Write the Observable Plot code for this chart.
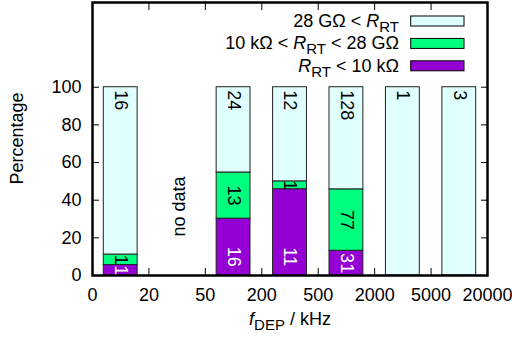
<!DOCTYPE html>
<html><head><meta charset="utf-8">
<script src="https://cdn.jsdelivr.net/npm/d3@7"></script>
<script src="https://cdn.jsdelivr.net/npm/@observablehq/plot@0.6"></script>
<style>
body{margin:0;background:#fff}
svg{font-family:"Liberation Sans",Arial,Helvetica,sans-serif}
</style>
</head><body><div id="chart"></div>
<script>
// ---- data ----
const binEdges = ["0","20","50","200","500","2000","5000","20000"];
const lowCounts  = [1, null, 16, 11, 31, 0, 0];   // R_RT < 10 kΩ
const midCounts  = [1, null, 13, 1, 77, 0, 0];    // 10 kΩ < R_RT < 28 GΩ
const highCounts = [16, null, 24, 12, 128, 1, 3]; // 28 GΩ < R_RT
const seriesKeys = ["low", "mid", "high"];
const seriesColors = {low: "#9400d3", mid: "#00ff7f", high: "#e0ffff"};
const labelColors = {low: "#ffffff", mid: "#000000", high: "#000000"};
const yTicks = [0, 20, 40, 60, 80, 100];
const noDataBin = 1;
const noDataText = "no data";
const noDataY = 36.6;

// ---- build table ----
const rows = [];
binEdges.slice(0, -1).forEach((_, i) => {
  const counts = {low: lowCounts[i], mid: midCounts[i], high: highCounts[i]};
  if (counts.low == null) return;
  const total = counts.low + counts.mid + counts.high;
  let acc = 0;
  for (const k of seriesKeys) {
    const pct = counts[k] / total * 100;
    rows.push({i, key: k, count: counts[k], y1: acc, y2: acc + pct});
    acc += pct;
  }
});
const segs = rows.filter(d => d.count > 0);
const labelY = d => d.key === "low" ? Math.min((d.y1 + d.y2) / 2, 10)
                  : d.key === "mid" ? (d.y1 + d.y2) / 2 : 100;

const xTicks = d3.range(binEdges.length);

const plot = Plot.plot({
  width: 512, height: 338,
  marginLeft: 92, marginRight: 25, marginTop: 2, marginBottom: 63,
  style: {fontSize: "18px", fontFamily: '"Liberation Sans", Arial, sans-serif', background: "#fff", color: "#000"},
  x: {type: "linear", domain: [0, binEdges.length - 1]},
  y: {domain: [0, 145]},
  marks: [
    Plot.rect(segs, {x1: d => d.i + 0.2, x2: d => d.i + 0.8, y1: "y1", y2: "y2",
      fill: d => seriesColors[d.key], stroke: "#222", strokeWidth: 1}),
    Plot.text(segs.filter(d => d.key !== "high"), {x: d => d.i + 0.5, y: labelY, text: d => String(d.count),
      rotate: 90, textAnchor: "middle", lineAnchor: "middle", fill: d => labelColors[d.key], fontSize: 18}),
    Plot.text(segs.filter(d => d.key === "high"), {x: d => d.i + 0.5, y: labelY, text: d => String(d.count),
      rotate: 90, textAnchor: "start", lineAnchor: "middle", dy: 3, fill: d => labelColors[d.key], fontSize: 18}),
    Plot.text([noDataText], {x: noDataBin + 0.5, y: noDataY, text: d => d, rotate: -90,
      textAnchor: "middle", lineAnchor: "middle", dx: 2, fill: "#000", fontSize: 18}),
    Plot.axisY({ticks: yTicks, tickSize: -7, tickPadding: 18, label: null, strokeWidth: 1}),
    Plot.axisY({anchor: "right", ticks: yTicks, tickSize: -7, tickFormat: () => "", label: null}),
    Plot.axisX({ticks: xTicks, tickSize: -7, tickPadding: 20, tickFormat: i => binEdges[i], label: null}),
    Plot.axisX({anchor: "top", ticks: xTicks, tickSize: -7, tickFormat: () => "", label: null}),
    Plot.frame({stroke: "#000", strokeWidth: 2.5})
  ]
});
document.getElementById("chart").appendChild(plot);

// ---- axis titles and legend (rich text with subscripts) ----
const svg = d3.select(plot);
const g = svg.append("g").attr("font-size", 18).attr("fill", "#000");

function richText(sel, parts) {
  let shift = 0;
  parts.forEach(p => {
    const t = sel.append("tspan").text(p.t);
    if (p.i) t.attr("font-style", "italic");
    const want = p.sub ? 5 : 0;
    if (want !== shift) { t.attr("dy", want - shift); shift = want; }
    if (p.sub) t.attr("font-size", 15);
  });
}

// y title
const yt = g.append("text").attr("transform", "translate(23,138.5) rotate(-90)").attr("text-anchor", "middle");
richText(yt, [{t: "Percentage"}]);
// x title
const xt = g.append("text").attr("x", 290).attr("y", 325).attr("text-anchor", "middle");
richText(xt, [{t: "f", i: true}, {t: "DEP", sub: true}, {t: " / kHz"}]);

const legendItems = [
  {key: "high", parts: [{t: "28 GΩ < "}, {t: "R", i: true}, {t: "RT", sub: true}]},
  {key: "mid", parts: [{t: "10 kΩ < "}, {t: "R", i: true}, {t: "RT", sub: true}, {t: " < 28 GΩ"}]},
  {key: "low", parts: [{t: "R", i: true}, {t: "RT", sub: true}, {t: " < 10 kΩ"}]}
];
legendItems.forEach((it, j) => {
  const cy = 21 + j * 22.4;
  const tx = g.append("text").attr("x", 399).attr("y", cy + 6).attr("text-anchor", "end");
  richText(tx, it.parts);
  g.append("rect").attr("x", 410.7).attr("y", cy - 5).attr("width", 53.3).attr("height", 10)
    .attr("fill", seriesColors[it.key]).attr("stroke", "#000").attr("stroke-width", 1);
});
</script>
</body></html>
